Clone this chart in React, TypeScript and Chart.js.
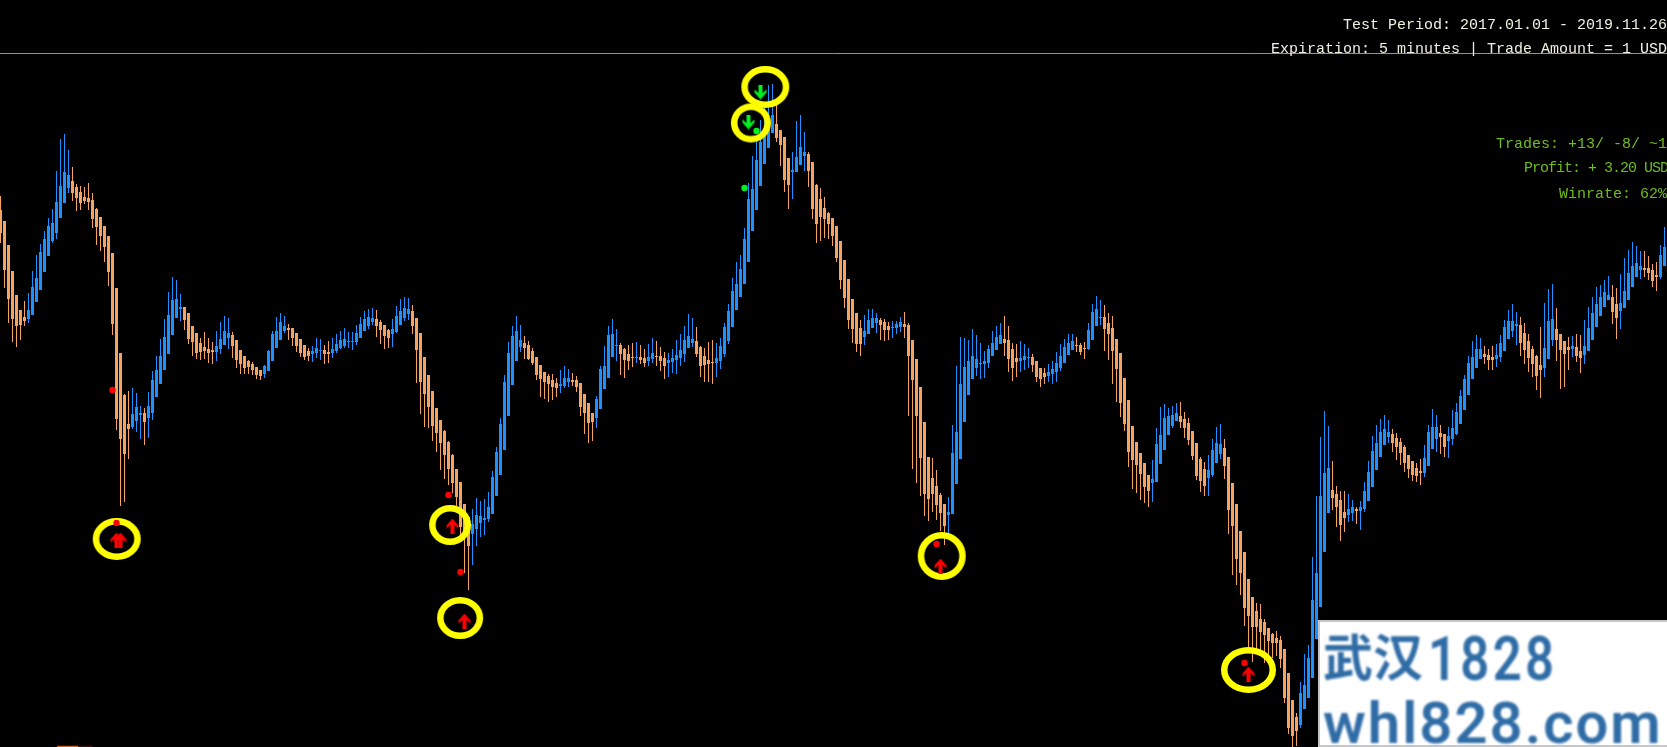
import React, { useEffect, useRef } from "react";
import { Chart, registerables } from "chart.js";

Chart.register(...registerables);

// each candle: [high, open, close, low], read as levels counted downward from the top of the picture
type C = [number, number, number, number];

const legA: C[] = [
  [196,210,233,243],[221,221,270,288],[245,245,299,323],[271,271,319,342],[295,295,326,347],[310,310,325,340],[301,317,321,326],
  [293,319,310,323],[271,315,287,315],[255,302,278,302],[244,290,252,290],[231,272,239,272],[218,256,226,256],[209,241,223,243],
  [171,233,202,239],[139,218,186,218],[134,203,172,203],[150,188,175,193],[167,181,193,201],[184,187,198,211],[186,192,203,210],
  [187,197,201,204],[183,198,202,210],[193,200,219,228],[208,209,227,245],[217,217,236,251],[226,226,247,262],[236,236,272,286],
  [253,253,324,335],[288,288,419,430],[353,353,439,506],[394,395,454,502],[391,424,429,459],[388,427,414,429],[393,421,407,432],
  [406,415,413,439],[408,413,422,445],[392,418,406,438],[371,413,380,420],[356,397,370,397],[339,384,356,384],[319,370,337,370],
  [292,354,315,354],[277,335,300,335],[280,318,299,318],[294,309,307,321],[307,307,320,330],[313,313,339,344],[326,326,342,356],
  [333,333,353,359],
];
const legB: C[] = [
  [338,343,352,360],[332,347,351,359],[338,349,353,363],[342,350,352,364],[331,352,346,361],[322,349,339,354],[316,345,331,345],
  [318,338,333,349],[332,335,346,358],[340,340,360,368],[350,350,364,374],[356,356,368,374],[360,361,367,374],[362,364,370,375],
  [367,367,375,379],[370,370,376,380],[365,374,366,378],[350,371,351,371],[331,361,334,361],[317,348,331,348],[313,340,322,340],
  [316,331,326,333],[324,328,330,340],[328,328,338,346],[333,333,346,352],[339,339,353,357],[345,345,357,360],[348,351,356,361],
  [346,354,351,362],[338,353,348,358],[339,351,350,360],[345,350,354,364],[341,352,354,363],[338,353,349,358],[334,351,344,353],
  [331,348,340,349],[328,346,339,348],[332,342,341,348],[332,342,341,350],[325,342,333,345],[317,338,324,338],[311,331,319,331],
  [309,326,317,329],[308,322,318,325],[310,319,326,337],[320,322,330,344],[325,325,336,349],[329,330,338,348],[319,334,329,347],
  [306,332,316,333],
];
const legC: C[] = [
  [299,325,311,325],[297,318,308,321],[298,314,309,320],[305,311,326,334],[318,318,350,383],[333,333,382,414],[357,357,394,427],
  [375,375,407,428],[391,391,426,441],[408,408,433,452],[420,420,443,470],[430,431,455,479],[441,442,469,485],[454,455,483,493],
  [469,469,497,510],[482,482,527,540],[504,504,535,573],[517,517,546,590],[509,534,524,565],[498,529,515,546],[501,523,516,537],
  [499,520,518,535],[492,519,507,522],[471,514,477,514],[447,496,452,496],[418,475,424,475],[375,450,382,450],[342,416,353,416],
  [326,385,336,385],[316,361,331,361],[325,347,340,352],[336,343,348,359],[341,345,359,360],[348,351,363,365],[357,357,375,380],
  [365,365,379,397],[372,372,382,399],[374,376,384,402],[374,380,387,400],[378,383,388,397],[370,386,384,393],[366,386,378,388],
  [369,382,378,387],[373,380,382,386],[376,380,387,392],[383,383,407,416],[394,394,413,434],[403,403,423,443],[413,413,422,441],
  [396,418,399,428],
];
const legD: C[] = [
  [366,409,369,409],[346,389,366,389],[326,378,335,378],[319,357,334,357],[329,346,345,361],[343,345,354,375],[348,349,360,378],
  [345,354,361,370],[343,357,358,367],[342,358,357,363],[345,357,360,364],[349,358,363,367],[344,361,357,366],[338,359,353,363],
  [341,356,357,366],[347,356,361,371],[352,358,366,379],[353,363,360,377],[349,362,358,373],[340,360,355,374],[334,358,350,366],
  [326,354,340,362],[314,348,336,348],[318,343,339,347],[327,341,354,357],[346,347,366,377],[348,356,365,382],[342,360,364,382],
  [340,362,363,384],[343,363,358,377],[338,361,346,369],[323,354,327,357],[304,341,311,344],[278,327,291,327],[262,310,284,310],
  [255,297,269,297],[228,284,239,284],[183,262,199,262],[156,231,189,231],[140,210,160,210],[120,186,142,186],[108,164,135,164],
  [85,148,128,148],[84,133,115,133],[103,124,138,142],[130,130,145,166],[137,137,180,192],[158,158,185,209],[152,172,170,199],
  [121,172,157,172],
];
const legE: C[] = [
  [115,165,147,165],[132,156,152,171],[152,154,171,187],[162,162,209,219],[184,185,224,243],[188,199,217,241],[197,208,219,238],
  [212,213,224,239],[218,218,236,246],[226,226,258,262],[241,241,280,289],[260,260,298,308],[279,279,320,329],[299,299,329,343],
  [313,313,344,352],[320,328,344,356],[315,337,331,345],[309,334,320,334],[309,328,318,328],[313,323,318,333],[318,320,325,340],
  [319,322,330,341],[322,326,330,340],[321,328,327,338],[321,328,324,334],[317,327,322,332],[312,324,327,338],[323,325,356,416],
  [340,340,380,469],[359,359,416,483],[387,387,458,496],[422,422,494,516],[457,457,499,521],[458,478,494,512],[470,486,505,520],
  [493,495,513,531],[504,504,526,545],[497,515,512,535],[425,514,453,514],[366,484,432,484],[337,459,384,459],[338,422,367,422],
  [340,395,361,395],[329,379,356,379],[335,368,359,376],[343,364,363,379],[351,364,361,378],[345,363,349,368],[331,356,343,356],
  [326,350,337,350],
];
const legF: C[] = [
  [323,344,335,344],[316,339,343,356],[326,340,359,372],[343,349,368,381],[344,358,362,377],[341,361,358,372],[344,360,356,370],
  [348,358,357,368],[354,357,365,372],[361,361,377,382],[368,368,379,387],[368,373,377,384],[364,376,372,382],[361,374,369,384],
  [352,372,363,382],[344,368,356,371],[339,363,347,363],[334,355,343,355],[334,350,341,350],[337,345,346,352],[343,345,352,355],
  [342,348,349,359],[323,349,330,350],[304,340,312,340],[296,326,309,326],[300,318,317,325],[305,317,329,351],[313,323,334,360],
  [316,328,351,384],[339,339,369,402],[353,353,403,417],[378,378,424,431],[400,400,452,467],[426,426,460,489],[442,442,465,493],
  [453,453,474,500],[463,463,487,503],[475,475,491,507],[460,483,479,502],[428,482,444,482],[407,464,435,464],[404,450,418,450],
  [408,435,416,435],[406,426,415,428],[403,421,413,421],[402,416,422,428],[412,419,428,438],[418,423,440,445],[431,431,456,460],
  [443,443,476,480],
];
const legG: C[] = [
  [457,459,481,492],[462,469,486,496],[455,478,470,496],[439,475,450,477],[427,463,443,463],[424,454,444,459],[439,448,466,479],
  [457,457,510,534],[483,483,526,575],[504,504,559,585],[531,531,573,595],[552,552,608,626],[579,579,616,650],[597,597,627,662],
  [603,611,627,650],[604,619,632,650],[619,622,635,663],[628,628,641,655],[633,634,643,658],[631,638,643,656],[636,640,659,668],
  [649,649,698,703],[673,673,728,734],[700,700,736,747],[713,717,731,746],[682,725,693,728],[654,709,685,709],[645,698,658,698],
  [557,678,600,678],[496,639,573,639],[437,607,496,607],[411,552,473,552],[426,513,468,513],[461,490,498,510],[486,494,507,527],
  [491,500,525,541],[491,512,518,532],[494,515,509,522],[500,513,507,521],[507,509,511,524],[501,511,507,530],[482,509,491,512],
  [461,501,472,501],[436,487,451,487],[425,470,443,470],[419,457,432,457],[415,445,429,445],[420,437,432,443],[429,434,443,452],
  [433,438,447,460],
];
const legH: C[] = [
  [438,442,453,465],[445,447,463,472],[455,455,469,478],[461,461,475,481],[463,468,476,482],[459,471,473,485],[445,473,458,477],
  [425,466,432,466],[409,449,427,449],[415,439,427,452],[425,433,437,454],[434,434,447,457],[427,441,436,458],[410,439,428,445],
  [403,434,412,435],[390,424,396,424],[375,410,379,410],[356,395,363,395],[341,379,357,379],[335,368,349,368],[338,359,349,359],
  [346,354,357,364],[349,355,360,370],[346,357,360,370],[344,359,355,367],[335,357,343,362],[320,351,327,351],[310,339,321,339],
  [304,331,321,337],[312,326,324,345],[317,325,343,356],[323,333,350,364],[334,341,358,372],[346,349,364,377],[355,356,376,390],
  [327,365,370,398],[303,368,348,377],[289,359,321,359],[284,340,319,346],[308,329,340,361],[334,334,350,389],[341,341,354,387],
  [337,347,350,370],[336,349,346,357],[334,347,356,362],[335,351,358,373],[320,355,346,364],[307,351,328,351],[297,340,313,340],
  [287,327,304,327],[285,316,297,316],[280,307,292,307],[276,300,295,300],[285,297,312,324],[288,304,318,339],[274,311,303,329],
  [258,308,291,308],[250,300,273,300],[242,287,266,287],[246,277,263,277],[251,270,266,279],[251,268,270,277],[256,268,273,280],
  [264,270,281,287],[262,275,277,291],[245,277,255,279],[227,266,247,266],
];
const candles: C[] = [...legA, ...legB, ...legC, ...legD, ...legE, ...legF, ...legG, ...legH];

// signal dots: candle index and level
const redDotIdx = [28, 29, 112, 115, 234, 311];
const redDotLvl = [390, 523, 495, 572, 544, 663];
const limeDotIdx = [186, 189];
const limeDotLvl = [188, 131];
// buy / sell arrows
const upArrowIdx = [29, 30, 113, 116, 235, 312];
const upArrowLvl = [540, 540, 526, 621, 566, 674];
const downArrowIdx = [187, 190];
const downArrowLvl = [122, 92];
// hand-drawn yellow rings
const ringIdx = [29.05, 112.4, 114.9, 191.2, 187.6, 235.3, 312];
const ringLvl = [539, 525, 618, 87, 123, 556, 670];
const ringRx = [24, 21, 23, 24, 20, 24, 27.5];
const ringRy = [21, 20, 21, 21, 19.5, 24, 23];
// separator and the cut-off streak at the lower edge
const separatorLvl = 53.5;
const streakIdx = [14.2, 19.4, 23];
const streakLvl = 746.5;

const UP = "#1E90FF";
const DOWN = "#F4A460";
const W = 1667;
const H = 747;
const STEP = 4;
const X_MIN = -0.5 / STEP;
const X_MAX = X_MIN + W / STEP;

function ring(rx: number, ry: number) {
  const c = document.createElement("canvas");
  c.width = Math.ceil(rx * 2 + 2);
  c.height = Math.ceil(ry * 2 + 2);
  const g = c.getContext("2d")!;
  g.strokeStyle = "#FFFF00";
  g.lineWidth = 6.5;
  g.beginPath();
  g.ellipse(c.width / 2, c.height / 2, rx - 3.25, ry - 3.25, 0, 0, Math.PI * 2);
  g.stroke();
  return c;
}

function arrow(color: string, up: boolean) {
  const c = document.createElement("canvas");
  c.width = 14;
  c.height = 15;
  const g = c.getContext("2d")!;
  if (!up) {
    g.translate(0, 15);
    g.scale(1, -1);
  }
  g.fillStyle = color;
  g.beginPath();
  g.moveTo(7, 0);
  g.lineTo(13, 7);
  g.lineTo(13, 10);
  g.lineTo(9, 6.5);
  g.lineTo(9, 15);
  g.lineTo(5, 15);
  g.lineTo(5, 6.5);
  g.lineTo(1, 10);
  g.lineTo(1, 7);
  g.closePath();
  g.fill();
  return c;
}

const captionPlugin = {
  id: "captions",
  afterDraw(chart: any) {
    const ctx = chart.ctx as CanvasRenderingContext2D & { letterSpacing: string };
    ctx.save();
    ctx.textBaseline = "alphabetic";
    ctx.textAlign = "left";
    ctx.font = '15px "Liberation Mono"';
    ctx.fillStyle = "#F2F0E0";
    ctx.fillText("Test Period: 2017.01.01 - 2019.11.26", 1343, 29);
    ctx.fillText("Expiration: 5 minutes | Trade Amount = 1 USD", 1271, 53);
    ctx.fillStyle = "#6FBC1E";
    ctx.fillText("Trades: +13/ -8/ ~1", 1496, 148);
    ctx.fillText("Winrate: 62%", 1559, 198);
    ctx.letterSpacing = "-1px";
    ctx.fillText("Profit: + 3.20 USD", 1524, 172);
    ctx.letterSpacing = "0px";

    // watermark panel
    ctx.fillStyle = "#FFFFFF";
    ctx.fillRect(1318, 620, 349, 127);
    ctx.strokeStyle = "#B4B4B4";
    ctx.lineWidth = 1.5;
    ctx.strokeRect(1319, 621, 360, 125);
    ctx.filter = "blur(0.8px)";
    ctx.fillStyle = "#2F6CA6";
    ctx.font = 'bold 50px "Noto Sans CJK SC"';
    ctx.fillText("武汉", 1323, 676);
    ctx.letterSpacing = "4px";
    ctx.font = '600 62px "Roboto"';
    ctx.save();
    ctx.translate(1428, 680);
    ctx.scale(0.82, 1);
    ctx.fillText("1828", 0, 0);
    ctx.restore();
    ctx.letterSpacing = "2px";
    ctx.font = '600 58px "Roboto"';
    ctx.fillText("whl828.com", 1323, 743);
    ctx.restore();
  },
};

export default function App() {
  const ref = useRef<HTMLCanvasElement>(null);
  useEffect(() => {
    const colors = candles.map((c) => (c[2] < c[1] ? UP : DOWN));
    const chart = new Chart(ref.current!, {
      type: "bar",
      plugins: [captionPlugin],
      data: {
        datasets: [
          {
            type: "scatter",
            order: 1,
            data: redDotIdx.map((x, i) => ({ x, y: redDotLvl[i] })),
            pointRadius: 3.2,
            pointBackgroundColor: "#FF0000",
            pointBorderWidth: 0,
          },
          {
            type: "scatter",
            order: 1,
            data: limeDotIdx.map((x, i) => ({ x, y: limeDotLvl[i] })),
            pointRadius: 3.2,
            pointBackgroundColor: "#00F020",
            pointBorderWidth: 0,
          },
          {
            type: "scatter",
            order: 1,
            data: upArrowIdx.map((x, i) => ({ x, y: upArrowLvl[i] })),
            pointRadius: 7,
            pointStyle: arrow("#FF0000", true),
          },
          {
            type: "scatter",
            order: 1,
            data: downArrowIdx.map((x, i) => ({ x, y: downArrowLvl[i] })),
            pointRadius: 7,
            pointStyle: arrow("#00F020", false),
          },
          {
            type: "scatter",
            order: 2,
            data: ringIdx.map((x, i) => ({ x, y: ringLvl[i] })),
            pointRadius: 10,
            pointStyle: ringIdx.map((_, i) => ring(ringRx[i], ringRy[i])),
          },
          {
            type: "bar",
            order: 3,
            grouped: false,
            barPercentage: 1,
            categoryPercentage: 1,
            maxBarThickness: 3,
            inflateAmount: 0,
            borderWidth: 0,
            backgroundColor: colors,
            data: candles.map((c, x) => ({ x, y: [c[1], c[2]] })),
          },
          {
            type: "bar",
            order: 4,
            grouped: false,
            barPercentage: 1,
            categoryPercentage: 1,
            maxBarThickness: 1,
            inflateAmount: 0,
            borderWidth: 0,
            backgroundColor: colors,
            data: candles.map((c, x) => ({ x, y: [c[0], c[3]] })),
          },
          {
            type: "line",
            order: 5,
            data: [
              { x: X_MIN, y: separatorLvl },
              { x: X_MAX, y: separatorLvl },
            ],
            borderColor: "#8A94A6",
            borderWidth: 1,
            pointRadius: 0,
          },
          {
            type: "line",
            order: 5,
            data: [
              { x: streakIdx[0], y: streakLvl },
              { x: streakIdx[1], y: streakLvl },
            ],
            borderColor: "#D9601E",
            borderWidth: 1.5,
            pointRadius: 0,
          },
          {
            type: "line",
            order: 5,
            data: [
              { x: streakIdx[1], y: streakLvl },
              { x: streakIdx[2], y: streakLvl },
            ],
            borderColor: "#3A1510",
            borderWidth: 1.5,
            pointRadius: 0,
          },
        ],
      } as any,
      options: {
        responsive: false,
        animation: false,
        devicePixelRatio: 1,
        layout: { padding: 0, autoPadding: false },
        plugins: { legend: { display: false }, tooltip: { enabled: false } },
        scales: {
          x: { type: "linear", display: false, offset: false, min: X_MIN, max: X_MAX },
          y: { type: "linear", display: false, offset: false, min: 0, max: H, reverse: true },
        },
      } as any,
    });
    return () => chart.destroy();
  }, []);
  return (
    <div style={{ position: "fixed", left: 0, top: 0, width: W, height: H, background: "#000", overflow: "hidden" }}>
      <canvas ref={ref} width={W} height={H} style={{ display: "block" }} />
    </div>
  );
}
